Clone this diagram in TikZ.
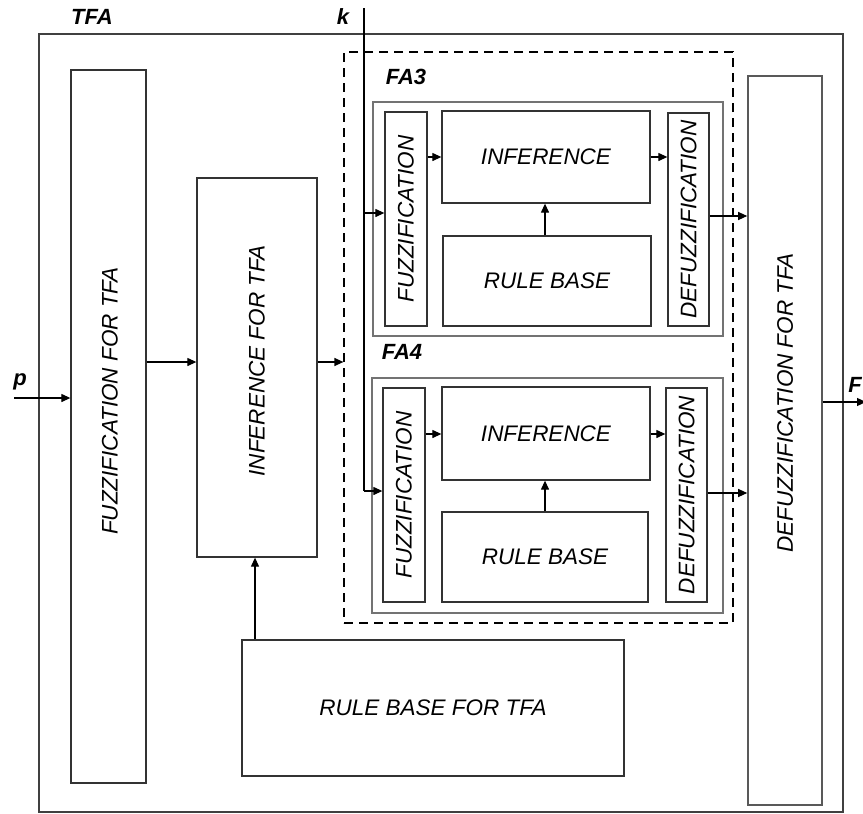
\documentclass[tikz,border=0pt]{standalone}
\usepackage{fontspec}
\setmainfont{Liberation Sans}
\usetikzlibrary{arrows.meta}
\begin{document}
\begin{tikzpicture}[x=1pt,y=-1pt,
  box/.style={draw=black!80,line width=1.3pt,rectangle,inner sep=0pt},
  fabox/.style={draw=black!55,line width=2.2pt,rectangle,inner sep=0pt},
  txt/.style={font=\fontsize{22.5}{24}\selectfont\itshape,inner sep=0pt},
  lab/.style={font=\fontsize{22}{24}\selectfont\bfseries\itshape,inner sep=0pt},
  arr/.style={line width=1.2pt,-{Triangle[length=9pt,width=8pt]}},
  ln/.style={line width=1.2pt}]
\useasboundingbox (0,0) rectangle (863,814);
% outer box
\node[box,draw=black!75,minimum width=804pt,minimum height=778pt] (tfa) at (441,423) {};
\node[lab] (tfal) at (92,17) {TFA};
% dashed group
\node[draw,dashed,dash pattern=on 9pt off 6pt,line width=1.2pt,minimum width=389pt,minimum height=571pt,inner sep=0pt] (dash) at (538.5,337.5) {};
% TFA blocks
\node[box,minimum width=75pt,minimum height=713pt] (fuzzT) at (108.5,426.5) {};
\node[txt,rotate=90] (fuzzTt) at (110,401) {FUZZIFICATION FOR TFA};
\node[box,minimum width=120pt,minimum height=379pt] (infT) at (257,367.5) {};
\node[txt,rotate=90] (infTt) at (257,361) {INFERENCE FOR TFA};
\node[box,minimum width=382pt,minimum height=136pt,txt] (ruleT) at (433,708) {RULE BASE FOR TFA};
\node[box,draw=black!65,line width=1.6pt,minimum width=74pt,minimum height=729pt] (defT) at (785,440.5) {};
\node[txt,rotate=90] (defTt) at (785,403) {DEFUZZIFICATION FOR TFA};
% FA3
\node[lab] (fa3l) at (406,77) {FA3};
\node[fabox,minimum width=350pt,minimum height=234pt] (fa3) at (548,219) {};
\node[box,minimum width=42pt,minimum height=214pt] (fz3) at (406,219) {};
\node[txt,rotate=90] at (fz3) {FUZZIFICATION};
\node[box,minimum width=208pt,minimum height=92pt,txt] (in3) at (546,157) {INFERENCE};
\node[box,minimum width=208pt,minimum height=90pt,txt] (rb3) at (547,281) {RULE BASE};
\node[box,minimum width=41pt,minimum height=213pt] (df3) at (688.5,219.5) {};
\node[txt,rotate=90] at (df3) {DEFUZZIFICATION};
% FA4
\node[lab] (fa4l) at (402,352) {FA4};
\node[fabox,minimum width=351pt,minimum height=235pt] (fa4) at (547.5,495.5) {};
\node[box,minimum width=42pt,minimum height=214pt] (fz4) at (404,495) {};
\node[txt,rotate=90] at (fz4) {FUZZIFICATION};
\node[box,minimum width=208pt,minimum height=93pt,txt] (in4) at (546,433.5) {INFERENCE};
\node[box,minimum width=206pt,minimum height=90pt,txt] (rb4) at (545,557) {RULE BASE};
\node[box,minimum width=41pt,minimum height=214pt] (df4) at (686.5,495) {};
\node[txt,rotate=90] at (df4) {DEFUZZIFICATION};
% inputs / outputs
\coordinate (pin) at (14,398);
\node[lab] (pl) at (20,382) {p};
\coordinate (ktop) at (364,8);
\coordinate (kbot) at (364,491);
\node[lab] (kl) at (343,17) {k};
\coordinate (fout) at (866,402);
\node[lab,anchor=east] (fl) at (862,385) {F};
% connectors
\draw[arr] (pin) -- (fuzzT.west |- pin);
\draw[arr] (fuzzT.east |- 0,362) -- (infT.west |- 0,362);
\draw[arr] (infT.east |- 0,362) -- (dash.west |- 0,362);
\draw[ln] (ktop) -- (kbot);
\draw[arr] (kbot) -- (fz4.west |- kbot);
\draw[arr] (364,213) -- (fz3.west |- 0,213);
\draw[arr] (ruleT.north -| 255,0) -- (infT.south -| 255,0);
\draw[arr] (fz3.east |- 0,157) -- (in3.west |- 0,157);
\draw[arr] (in3.east |- 0,157) -- (df3.west |- 0,157);
\draw[arr] (rb3.north -| 545,0) -- (in3.south -| 545,0);
\draw[arr] (df3.east |- 0,216) -- (defT.west |- 0,216);
\draw[arr] (fz4.east |- 0,434) -- (in4.west |- 0,434);
\draw[arr] (in4.east |- 0,434) -- (df4.west |- 0,434);
\draw[arr] (rb4.north -| 545,0) -- (in4.south -| 545,0);
\draw[arr] (df4.east |- 0,493) -- (defT.west |- 0,493);
\draw[arr] (defT.east |- fout) -- (fout);
\end{tikzpicture}
\end{document}
